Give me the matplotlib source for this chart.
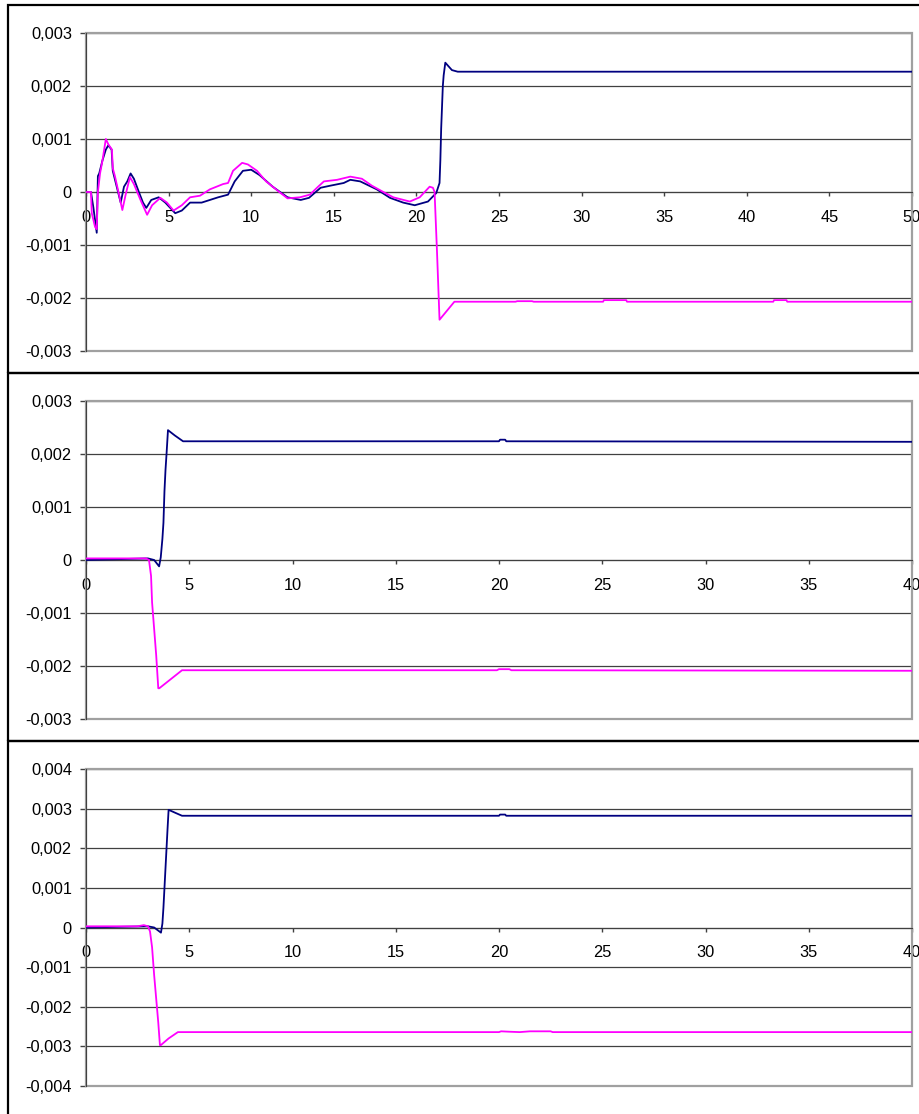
import numpy as np
import matplotlib
matplotlib.use('Agg')
import matplotlib.pyplot as plt
from matplotlib.patches import Rectangle

plt.rcParams['font.family'] = ['Liberation Sans', 'DejaVu Sans']

# ---- data (values in units of 1e-3) ----
# panel 1
p1_blue_t = [0, 0.3, 0.45, 0.65, 0.72, 0.8, 1.0, 1.2, 1.35, 1.55, 1.62, 1.7, 1.9, 2.1,
             2.3, 2.5, 2.7, 2.9, 3.2, 3.45, 3.65, 3.95, 4.4, 4.8, 5.4, 5.8, 6.3, 7.0,
             7.5, 8.0, 8.6, 9.0, 9.5, 10.0, 10.5, 11.3, 12.2, 13.0, 13.5, 14.2, 14.8,
             15.6, 16.0, 16.6, 17.6, 18.4, 19.2, 19.9, 20.7, 21.2, 21.4, 21.45, 21.5,
             21.6, 21.65, 21.75, 22.15, 22.5, 50]
p1_blue_v = [0, 0, -0.3, -0.77, 0.3, 0.35, 0.6, 0.8, 0.88, 0.8, 0.4, 0.3, 0.05, -0.2,
             0.1, 0.2, 0.35, 0.25, 0.0, -0.2, -0.3, -0.15, -0.1, -0.2, -0.4, -0.35,
             -0.2, -0.2, -0.15, -0.1, -0.05, 0.2, 0.4, 0.42, 0.32, 0.1, -0.1, -0.15,
             -0.11, 0.08, 0.12, 0.17, 0.23, 0.2, 0.05, -0.11, -0.2, -0.25, -0.18, -0.02,
             0.17, 0.6, 1.2, 2.0, 2.2, 2.44, 2.3, 2.27, 2.27]
p1_mag_t = [0, 0.3, 0.35, 0.55, 0.65, 0.72, 0.85, 1.0, 1.2, 1.35, 1.57, 1.62, 1.75, 2.0,
            2.2, 2.4, 2.66, 2.9, 3.3, 3.7, 4.0, 4.5, 4.9, 5.3, 5.8, 6.3, 6.9, 7.5, 8.3,
            8.6, 8.9, 9.45, 9.8, 10.35, 10.9, 11.7, 12.2, 12.95, 13.55, 14.05, 14.4,
            15.2, 16.0, 16.7, 17.3, 18.0, 18.6, 19.6, 20.2, 20.8, 21.0, 21.1, 21.25,
            21.4, 22.3, 26.0, 26.1, 27.0, 27.1, 31.3, 31.35, 32.7, 32.75, 41.6, 41.65,
            42.4, 42.45, 50]
p1_mag_v = [0, 0, -0.4, -0.66, -0.7, 0.0, 0.35, 0.6, 1.0, 0.9, 0.8, 0.45, 0.3, -0.05,
            -0.34, -0.05, 0.28, 0.15, -0.15, -0.43, -0.25, -0.11, -0.2, -0.35, -0.25,
            -0.1, -0.07, 0.05, 0.15, 0.17, 0.4, 0.55, 0.52, 0.4, 0.2, 0.0, -0.12, -0.1,
            -0.05, 0.1, 0.2, 0.23, 0.29, 0.25, 0.12, 0.0, -0.1, -0.18, -0.1, 0.1, 0.08,
            0.0, -1.15, -2.41, -2.07, -2.07, -2.06, -2.06, -2.07, -2.07, -2.04, -2.04,
            -2.07, -2.07, -2.04, -2.04, -2.07, -2.07]

# panel 2
p2_blue_t = [0, 3.0, 3.3, 3.54, 3.62, 3.7, 3.75, 3.8, 3.85, 3.9, 3.97, 4.3, 4.7, 20.0,
             20.05, 20.3, 20.35, 40]
p2_blue_v = [0.0, 0.03, 0.0, -0.12, 0.05, 0.4, 0.7, 1.3, 1.7, 2.0, 2.45, 2.35, 2.24,
             2.24, 2.27, 2.27, 2.24, 2.23]
p2_mag_t = [0, 2.9, 3.05, 3.15, 3.2, 3.3, 3.4, 3.5, 3.55, 4.1, 4.65, 19.9, 20.0, 20.5,
            20.6, 40]
p2_mag_v = [0.03, 0.03, 0.0, -0.3, -0.8, -1.3, -1.8, -2.42, -2.42, -2.25, -2.08, -2.08,
            -2.06, -2.06, -2.08, -2.09]

# panel 3
p3_blue_t = [0, 3.0, 3.3, 3.63, 3.7, 3.75, 3.8, 3.85, 3.9, 3.95, 4.0, 4.3, 4.65, 20.0,
             20.05, 20.3, 20.35, 40]
p3_blue_v = [0.0, 0.03, 0.0, -0.13, 0.1, 0.5, 1.0, 1.5, 2.0, 2.5, 2.97, 2.9, 2.82, 2.82,
             2.85, 2.85, 2.82, 2.82]
p3_mag_t = [0, 2.5, 2.8, 3.0, 3.1, 3.2, 3.3, 3.4, 3.5, 3.58, 3.62, 4.0, 4.45, 20.0,
            20.1, 20.5, 21.0, 21.5, 22.5, 22.6, 40]
p3_mag_v = [0.03, 0.03, 0.06, 0.03, -0.1, -0.5, -1.2, -1.8, -2.4, -2.97, -2.97, -2.8,
            -2.64, -2.64, -2.62, -2.63, -2.64, -2.62, -2.62, -2.64, -2.64]

yticks_3 = [-0.003, -0.002, -0.001, 0, 0.001, 0.002, 0.003]
ylabels_3 = ['-0,003', '-0,002', '-0,001', '0', '0,001', '0,002', '0,003']
yticks_4 = [-0.004, -0.003, -0.002, -0.001, 0, 0.001, 0.002, 0.003, 0.004]
ylabels_4 = ['-0,004', '-0,003', '-0,002', '-0,001', '0', '0,001', '0,002', '0,003', '0,004']

BLUE = '#000080'
MAGENTA = '#ff00ff'
GRID = '#404040'

W, H = 920, 1114
fig = plt.figure(figsize=(W / 100, H / 100), dpi=100)

# outer chart frames
for top, bottom in [(5, 373), (373, 741), (741, 1130)]:
    fig.patches.append(Rectangle((8 / W, 1 - bottom / H), 1.2, (bottom - top) / H,
                                 transform=fig.transFigure, fill=False,
                                 ec='black', lw=1.6))


def make_panel(top, bottom, xmax, yticks, ylabels, series):
    ax = fig.add_axes([86 / W, 1 - bottom / H, (912 - 86) / W, (bottom - top) / H])
    for t, v, c in series:
        ax.plot(t, np.array(v) * 1e-3, color=c, lw=1.3, zorder=3)
    ax.set_xlim(0, xmax)
    ax.set_ylim(yticks[0], yticks[-1])
    ax.set_yticks(yticks)
    ax.set_yticklabels(ylabels)
    ax.set_xticks(np.arange(0, xmax + 1, 5))
    ax.yaxis.grid(True, color=GRID, lw=0.9)
    ax.set_axisbelow(True)
    # plot area border
    ax.add_patch(Rectangle((0, 0), 1, 1, transform=ax.transAxes, fill=False,
                           ec='#a0a0a0', lw=1.6, zorder=1, clip_on=False))
    for s in ['top', 'right']:
        ax.spines[s].set_visible(False)
    ax.spines['left'].set_color(GRID)
    ax.spines['bottom'].set_position(('data', 0))
    ax.spines['bottom'].set_color(GRID)
    ax.tick_params(axis='y', direction='out', length=4.3, width=1, color=GRID,
                   pad=5.8, labelsize=11.8)
    ax.tick_params(axis='x', direction='out', length=2.9, width=1, color=GRID,
                   pad=10, labelsize=11.8)
    return ax


make_panel(33, 351, 50, yticks_3, ylabels_3,
           [(p1_blue_t, p1_blue_v, BLUE), (p1_mag_t, p1_mag_v, MAGENTA)])
make_panel(401, 719, 40, yticks_3, ylabels_3,
           [(p2_blue_t, p2_blue_v, BLUE), (p2_mag_t, p2_mag_v, MAGENTA)])
make_panel(769, 1086, 40, yticks_4, ylabels_4,
           [(p3_blue_t, p3_blue_v, BLUE), (p3_mag_t, p3_mag_v, MAGENTA)])

fig.savefig('out.png', dpi=100)
